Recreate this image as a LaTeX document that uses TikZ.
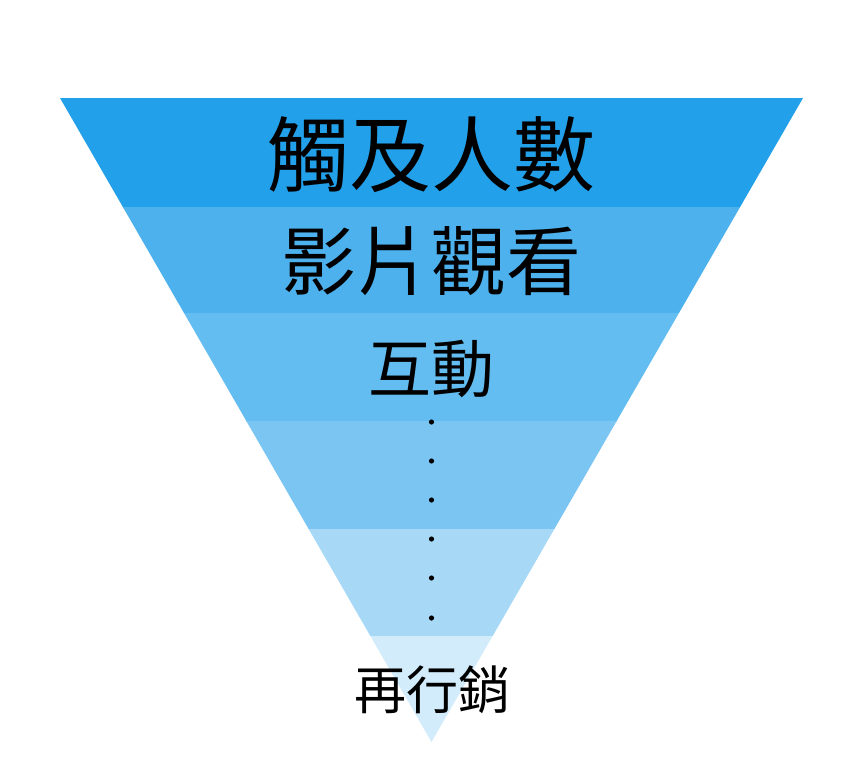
\documentclass[tikz,border=0pt]{standalone}
\usepackage{fontspec}
\newfontfamily\cjk{Noto Sans CJK TC}
\definecolor{bA}{HTML}{22A0EA}
\definecolor{bB}{HTML}{4DB1EE}
\definecolor{bC}{HTML}{63BDF0}
\definecolor{bD}{HTML}{7BC5F2}
\definecolor{bE}{HTML}{A7D9F7}
\definecolor{bF}{HTML}{D3ECFB}
\tikzset{
  lbl/.style={inner sep=0pt, text=black, font=\cjk},
  dotmark/.style={fill=black, draw=none},
}
\begin{document}
\begin{tikzpicture}[x=1pt,y=-1pt]
\useasboundingbox (0,0) rectangle (865,784);
\begin{scope}
  \clip (60,98) -- (803,98) -- (431.5,742) -- cycle;
  \fill[bA] (0,97) rectangle (865,207.5);
  \fill[bB] (0,207) rectangle (865,313);
  \fill[bC] (0,312.5) rectangle (865,421.5);
  \fill[bD] (0,421) rectangle (865,529);
  \fill[bE] (0,528.5) rectangle (865,636);
  \fill[bF] (0,635.5) rectangle (865,745);
\end{scope}
\node[lbl, font=\cjk\fontsize{82}{82}\selectfont] (reach) at (431,155) {觸及人數};
\node[lbl, font=\cjk\fontsize{75}{75}\selectfont] (view) at (431.5,261) {影片觀看};
\node[lbl, font=\cjk\fontsize{63}{63}\selectfont] (inter) at (431,369) {互動};
\node[lbl, font=\cjk\fontsize{52}{52}\selectfont] (remk) at (432,690) {再行銷};
\foreach \i/\yy in {1/422,2/461,3/500,4/539,5/578,6/618}
  \fill[dotmark] (431.5,\yy) circle (2.6);
\end{tikzpicture}
\end{document}
